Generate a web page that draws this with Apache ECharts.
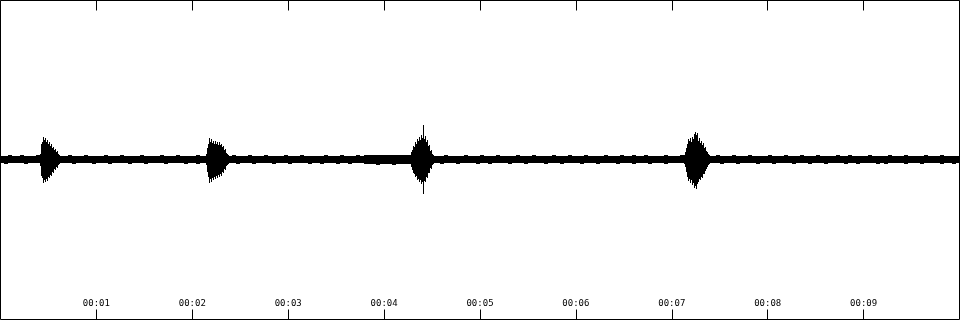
<!DOCTYPE html>
<html><head><meta charset="utf-8">
<script src="https://cdn.jsdelivr.net/npm/echarts@6/dist/echarts.min.js"></script>
<style>html,body{margin:0;padding:0;background:#fff}#c{width:960px;height:320px}</style>
</head><body><div id="c"></div>
<script>
// Time axis (seconds)
var durationSec = 10;
var tickLabels = ['00:01','00:02','00:03','00:04','00:05','00:06','00:07','00:08','00:09'];
var pxPerSec = 96; // one waveform column = 1/96 s

// Background noise envelope, one value per 4 columns (upper / lower amplitude)
var noiseStep = 4;
var noiseHi = [
3,3,4,3,3,4,3,3,3,4,3,3,3,3,4,3,3,4,3,3,
3,4,3,3,3,3,4,3,3,3,4,3,3,3,3,4,3,3,3,3,
4,3,3,3,4,3,3,3,3,4,3,3,4,3,3,3,3,3,4,3,
3,3,4,3,3,3,4,3,3,3,3,4,3,3,3,4,3,3,3,3,
3,4,3,3,3,4,3,3,3,4,3,4,4,4,4,4,4,4,4,4,
4,4,4,3,3,3,3,4,3,3,3,4,3,3,3,3,4,3,3,3,
4,3,3,3,4,3,3,3,3,4,3,3,3,4,3,3,3,3,4,3,
3,3,4,3,3,3,4,3,3,3,3,4,3,3,3,4,3,3,4,3,
3,4,3,3,3,3,4,3,3,3,4,3,3,3,3,4,3,3,3,4,
3,3,3,4,3,3,3,4,3,3,3,3,4,3,3,3,4,3,3,3,
4,3,3,3,4,3,3,3,3,4,3,3,4,3,3,3,3,4,3,3,
3,3,4,3,3,3,4,3,3,3,3,4,3,3,3,4,3,3,3,3
];
var noiseLo = [
3,4,3,3,3,3,4,3,3,3,4,3,3,4,3,3,3,3,4,3,
3,3,3,4,3,3,3,4,3,3,3,3,4,3,3,3,4,3,3,3,
3,4,3,3,3,3,4,3,3,4,3,3,3,3,4,3,3,3,3,4,
3,3,3,4,3,3,3,3,4,3,3,3,4,3,3,3,3,4,3,3,
4,3,3,3,4,3,3,4,3,3,3,4,4,4,5,4,4,4,5,4,
4,4,4,3,3,4,3,3,3,3,4,3,3,3,4,3,3,3,3,4,
3,3,4,3,3,3,3,4,3,3,3,4,3,3,3,3,4,3,3,3,
4,3,3,3,3,4,3,3,3,4,3,3,3,3,4,3,3,3,4,3,
3,3,4,3,3,3,4,3,3,3,3,4,3,3,3,4,3,3,3,3,
4,3,3,3,4,3,3,3,3,4,3,3,3,4,3,3,3,3,4,3,
3,3,4,3,3,3,4,3,3,3,3,4,3,3,4,3,3,3,3,4,
3,4,3,3,3,3,4,3,3,3,4,3,3,3,3,4,3,3,4,3
];

// Bursts: first column index and per-column upper / lower amplitude
var burst1Start = 40;
var burst1Hi = [5,15,17,22,19,21,17,19,15,17,13,15,11,12,9,10,7,8,5,4];
var burst1Lo = [6,16,18,23,20,22,19,21,17,18,15,16,12,13,9,10,7,8,5,4];
var burst2Start = 206;
var burst2Hi = [5,11,15,21,17,20,16,18,15,18,15,17,14,17,14,15,12,13,9,10,6,5,4];
var burst2Lo = [5,12,17,23,19,22,18,20,17,19,16,18,15,17,14,16,12,13,9,10,6,5,4];
var burst3Start = 410;
var burst3Hi = [4,7,9,13,12,17,15,20,18,22,19,24,21,34,20,23,17,19,13,14,8,9,5,4];
var burst3Lo = [4,7,10,13,14,17,16,20,19,22,20,24,22,34,21,22,17,18,13,13,8,9,5,4];
var burst4Start = 684;
var burst4Hi = [4,7,11,15,20,18,21,17,22,20,25,27,24,26,18,21,16,18,14,16,11,12,8,7,5,4];
var burst4Lo = [4,7,12,17,21,19,23,20,25,23,28,26,29,24,22,19,20,17,18,14,14,11,9,7,5,4];

// Build [tStart, tEnd, hi, lo] items
var items = [];
for (var i = 0; i < noiseHi.length; i++) {
  items.push([i*noiseStep/pxPerSec, (i+1)*noiseStep/pxPerSec, noiseHi[i], noiseLo[i]]);
}
function addBurst(start, hi, lo) {
  for (var j = 0; j < hi.length; j++) {
    items.push([(start+j)/pxPerSec, (start+j+1)/pxPerSec, hi[j], lo[j]]);
  }
}
addBurst(burst1Start, burst1Hi, burst1Lo);
addBurst(burst2Start, burst2Hi, burst2Lo);
addBurst(burst3Start, burst3Hi, burst3Lo);
addBurst(burst4Start, burst4Hi, burst4Lo);

var chart = echarts.init(document.getElementById('c'), null, {renderer:'canvas'});
var axisCommon = {
  type:'value', min:0, max:durationSec, interval:1,
  axisLine:{show:false, onZero:false}, splitLine:{show:false},
  axisTick:{show:true, inside:true, length:10, lineStyle:{color:'#000', width:1}}
};
chart.setOption({
  animation:false,
  backgroundColor:'#fff',
  grid:{left:0.5, right:0.5, top:0.5, bottom:0.5, show:true, borderColor:'#000', borderWidth:1, backgroundColor:'#fff'},
  xAxis:[
    Object.assign({}, axisCommon, {position:'bottom',
      axisLabel:{show:true, inside:true, margin:11, showMinLabel:false, showMaxLabel:false,
        color:'#000', fontFamily:'DejaVu Sans Mono', fontSize:9,
        formatter:function(v){ return tickLabels[Math.round(v)-1] || ''; }}}),
    Object.assign({}, axisCommon, {position:'top', axisLabel:{show:false}})
  ],
  yAxis:{type:'value', min:-161, max:159, show:false},
  series:[{
    type:'custom', xAxisIndex:0,
    data:items,
    renderItem:function(params, api){
      var p1 = api.coord([api.value(0), api.value(2)]);
      var p2 = api.coord([api.value(1), -api.value(3)]);
      var x1 = Math.round(p1[0]), x2 = Math.round(p2[0]);
      var y1 = Math.round(p1[1]), y2 = Math.round(p2[1]);
      return {type:'rect', shape:{x:x1, y:y1, width:Math.max(1,x2-x1), height:Math.max(1,y2-y1+1)},
        style:{fill:'#000'}};
    }
  }]
});
</script></body></html>
